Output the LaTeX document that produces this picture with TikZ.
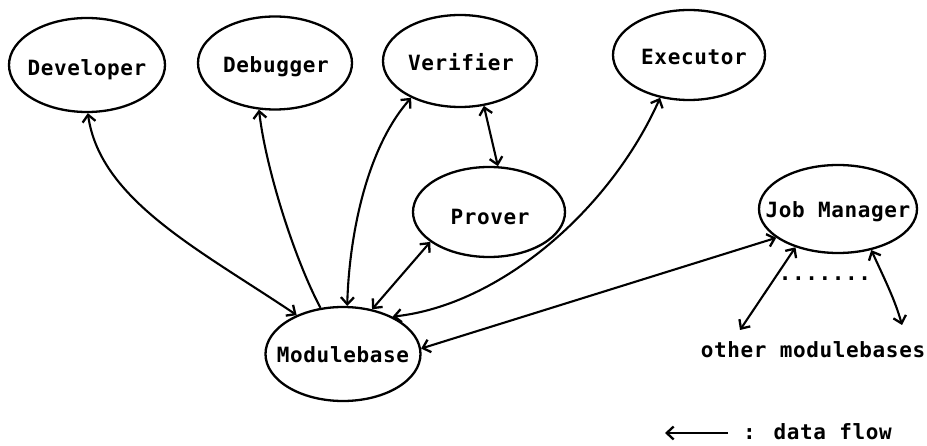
\documentclass[tikz,border=0pt]{standalone}
\usepackage{fontspec}
\newfontfamily\dmono[LetterSpace=3]{DejaVu Sans Mono}
\usetikzlibrary{shapes.geometric,arrows.meta}
\begin{document}
\begin{tikzpicture}[x=1pt,y=-1pt,
  blob/.style={draw, ellipse, line width=2.3pt, inner sep=0pt},
  lbl/.style={font=\dmono\bfseries\fontsize{21}{21}\selectfont, inner sep=0pt},
  barb/.tip={Straight Barb[length=7pt,width=13pt,line width=2.3pt]},
  both/.style={line width=2.1pt, barb-barb},
  single/.style={line width=2.1pt, -barb}
]
\useasboundingbox (0,0) rectangle (927,446);
% nodes
\node[blob, minimum width=156pt, minimum height=94pt] (dev) at (87,65) {};
\node[lbl] (devt) at (87,70) {Developer};
\node[blob, minimum width=154pt, minimum height=93pt] (deb) at (275,63) {};
\node[lbl] (debt) at (276,67) {Debugger};
\node[blob, minimum width=154pt, minimum height=92pt] (ver) at (460,61) {};
\node[lbl] (vert) at (461,62) {Verifier};
\node[blob, minimum width=152pt, minimum height=90pt] (exe) at (689,55) {};
\node[lbl] (exet) at (694,57) {Executor};
\node[blob, minimum width=152pt, minimum height=90pt] (pro) at (489,212) {};
\node[lbl] (prot) at (490,217) {Prover};
\node[blob, minimum width=158pt, minimum height=88pt] (job) at (838,209) {};
\node[lbl] (jobt) at (838,212) {Job Manager};
\node[blob, minimum width=155pt, minimum height=94pt] (mb) at (343,354) {};
\node[lbl] (mbt) at (343,355) {Modulebase};
\node[lbl] (dots) at (825,279) {.......};
\node[lbl] (other) at (813,350) {other modulebases};
\coordinate (om1) at (740,330);
\coordinate (om2) at (902,325);
% connectors
\draw[both] (dev.-89) .. controls (100,200) and (200,250) .. (mb.140);
\draw[single] (mb.116) .. controls (295,260) and (266,170) .. (deb.-109);
\draw[both] (mb.85) .. controls (349,240) and (365,150) .. (ver.-143);
\draw[both] (ver.-62) -- (pro.79);
\draw[both] (pro.-153) -- (mb.57);
\draw[both] (mb.37) .. controls (500,305) and (610,210) .. (exe.-124);
\draw[both] (mb.4) -- (job.-155);
\draw[both] (job.-138) -- (om1);
\draw[both] (job.-51) .. controls (885,280) and (895,300) .. (om2);
% legend
\coordinate (legA) at (728,433);
\coordinate (legB) at (665,433);
\draw[single] (legA) -- (legB);
\node[lbl, anchor=base west] (legt) at (743,439) {: data flow};
\end{tikzpicture}
\end{document}
